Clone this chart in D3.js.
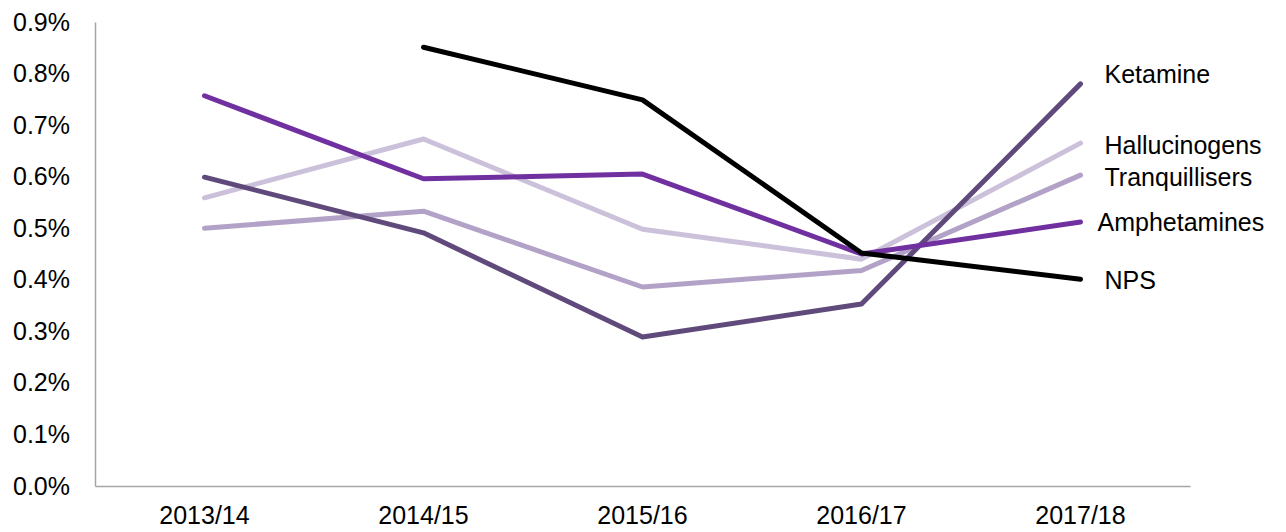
<!DOCTYPE html>
<html>
<head>
<meta charset="utf-8">
<script src="https://cdn.jsdelivr.net/npm/d3@7"></script>
<style>
  body { margin: 0; background: #fff; }
  text { font-family: "Liberation Sans", Arial, sans-serif; fill: #000; }
</style>
</head>
<body>
<div id="chart"></div>
<script>
// Data (percent of respondents)
const years = ['2013/14', '2014/15', '2015/16', '2016/17', '2017/18'];
const yTicks = [0, 0.1, 0.2, 0.3, 0.4, 0.5, 0.6, 0.7, 0.8, 0.9];

const amphetamines = [0.757, 0.596, 0.605, 0.450, 0.512];
const ketamine = [0.599, 0.491, 0.289, 0.353, 0.780];
const hallucinogens = [0.559, 0.673, 0.498, 0.440, 0.665];
const tranquillisers = [0.500, 0.533, 0.386, 0.418, 0.603];
const nps = [null, 0.851, 0.749, 0.452, 0.401];

const seriesNames = ['Tranquillisers', 'Hallucinogens', 'Ketamine', 'Amphetamines', 'NPS'];
const seriesValues = [tranquillisers, hallucinogens, ketamine, amphetamines, nps];

// Styling
const colours = {
  Amphetamines: '#7030a0',
  Ketamine: '#604a7b',
  Hallucinogens: '#ccc1da',
  Tranquillisers: '#b3a2c7',
  NPS: '#000000'
};
// label nudges (px) from the line end
const labelNudge = {
  Ketamine: {dx: 24, dy: -10},
  Hallucinogens: {dx: 24, dy: 2},
  Tranquillisers: {dx: 24, dy: 2},
  Amphetamines: {dx: 17, dy: 0},
  NPS: {dx: 24, dy: 1}
};
const fontSize = '25px';

const width = 1286, height = 532;
const margin = {top: 22, right: 96, bottom: 46, left: 95};

const svg = d3.select('#chart').append('svg')
  .attr('width', width)
  .attr('height', height);

const chart = svg.append('g')
  .attr('transform', `translate(${margin.left}, ${margin.top})`);

const chartWidth = width - margin.left - margin.right;
const chartHeight = height - margin.top - margin.bottom;

const xScale = d3.scaleBand().domain(years).range([0, chartWidth]);
const yScale = d3.scaleLinear().domain([0, 0.9]).range([chartHeight, 0]);

// Axes
const yAxis = d3.axisLeft(yScale)
  .tickValues(yTicks)
  .tickFormat(d => d.toFixed(1) + '%')
  .tickSize(0)
  .tickPadding(25);

const xAxis = d3.axisBottom(xScale)
  .tickSize(0)
  .tickPadding(20);

const yAxisGroup = chart.append('g').call(yAxis);
const xAxisGroup = chart.append('g')
  .attr('transform', `translate(0, ${chartHeight})`)
  .call(xAxis);

[yAxisGroup, xAxisGroup].forEach(g => {
  g.select('.domain').attr('stroke', '#a6a6a6').attr('stroke-width', 1.5);
  g.selectAll('.tick text')
    .style('font-family', '"Liberation Sans", Arial, sans-serif')
    .style('font-size', fontSize)
    .attr('fill', '#000');
});
xAxisGroup.selectAll('.tick text').attr('dy', '0.71em');

// Lines
const lineGenerator = d3.line()
  .defined(d => d !== null)
  .x((d, i) => xScale(years[i]) + xScale.bandwidth() / 2)
  .y(d => yScale(d));

seriesNames.forEach((name, k) => {
  const values = seriesValues[k];
  chart.append('path')
    .attr('d', lineGenerator(values))
    .attr('fill', 'none')
    .attr('stroke', colours[name])
    .attr('stroke-width', 5)
    .attr('stroke-linejoin', 'round')
    .attr('stroke-linecap', 'round');

  const last = values.length - 1;
  chart.append('text')
    .attr('x', xScale(years[last]) + xScale.bandwidth() / 2 + labelNudge[name].dx)
    .attr('y', yScale(values[last]) + labelNudge[name].dy)
    .attr('dy', '0.35em')
    .style('font-size', fontSize)
    .text(name);
});
</script>
</body>
</html>
